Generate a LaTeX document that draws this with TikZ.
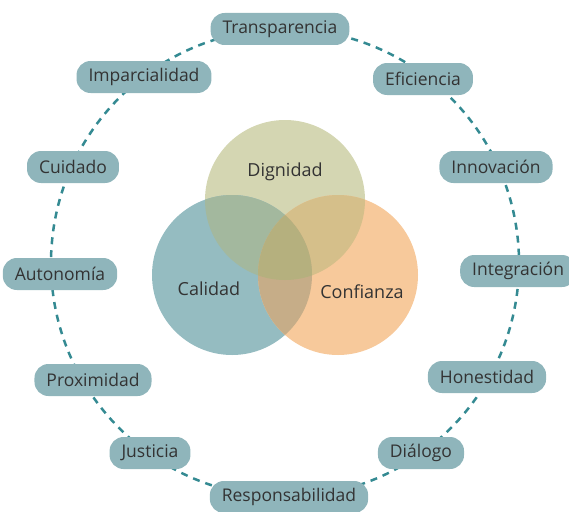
\documentclass[tikz,border=0pt]{standalone}
\usepackage{fontspec}
\setmainfont{Open Sans}
\definecolor{pill}{HTML}{8FB5BB}
\definecolor{ringcol}{HTML}{348A92}
\definecolor{txt}{HTML}{333333}
\definecolor{cD}{HTML}{D4D6B2}
\definecolor{cC}{HTML}{95BCC1}
\definecolor{cF}{HTML}{F7C99B}
\definecolor{cCD}{HTML}{A3B89E}
\definecolor{cDF}{HTML}{D5BF8A}
\definecolor{cCF}{HTML}{C6AD88}
\definecolor{cCDF}{HTML}{B5B07E}
\begin{document}
\begin{tikzpicture}[x=1pt,y=-1pt,
  value/.style={fill=pill, rounded corners=14pt, text=txt, inner xsep=12pt,
    minimum height=32pt, font=\fontsize{17.5}{20}\selectfont},
  venn/.style={text=txt, font=\fontsize{18}{21}\selectfont}]
\useasboundingbox (0,0) rectangle (569,511);
% Venn circles
\fill[cD] (285,200) circle (80);
\fill[cC] (232,275) circle (80);
\fill[cF] (338,275) circle (80);
\begin{scope}
  \clip (232,275) circle (80);
  \fill[cCD] (285,200) circle (80);
\end{scope}
\begin{scope}
  \clip (285,200) circle (80);
  \fill[cDF] (338,275) circle (80);
\end{scope}
\begin{scope}
  \clip (232,275) circle (80);
  \fill[cCF] (338,275) circle (80);
\end{scope}
\begin{scope}
  \clip (232,275) circle (80);
  \clip (285,200) circle (80);
  \fill[cCDF] (338,275) circle (80);
\end{scope}
\node[venn] (dig) at (285,172) {Dignidad};
\node[venn] (cal) at (209,289) {Calidad};
\node[venn] (conf) at (362,292) {Confianza};
% dashed ring
\coordinate (ctr) at (285,263);
\draw[ringcol, line width=2.5pt, dash pattern=on 7pt off 6pt] (ctr) circle (234);
% values
\node[value] (transp) at (280,29) {Transparencia};
\node[value] (efic) at (423,79) {Eficiencia};
\node[value] (innov) at (496,167) {Innovación};
\node[value, anchor=west] (integ) at (460,271) {Integración};
\node[value] (hon) at (487,377) {Honestidad};
\node[value] (dial) at (421,453) {Diálogo};
\node[value] (resp) at (289,497) {Responsabilidad};
\node[value] (just) at (150,453) {Justicia};
\node[value] (prox) at (93,380) {Proximidad};
\node[value] (auto) at (60,274) {Autonomía};
\node[value] (cuid) at (73,167) {Cuidado};
\node[value] (impar) at (144,77) {Imparcialidad};
\end{tikzpicture}
\end{document}
